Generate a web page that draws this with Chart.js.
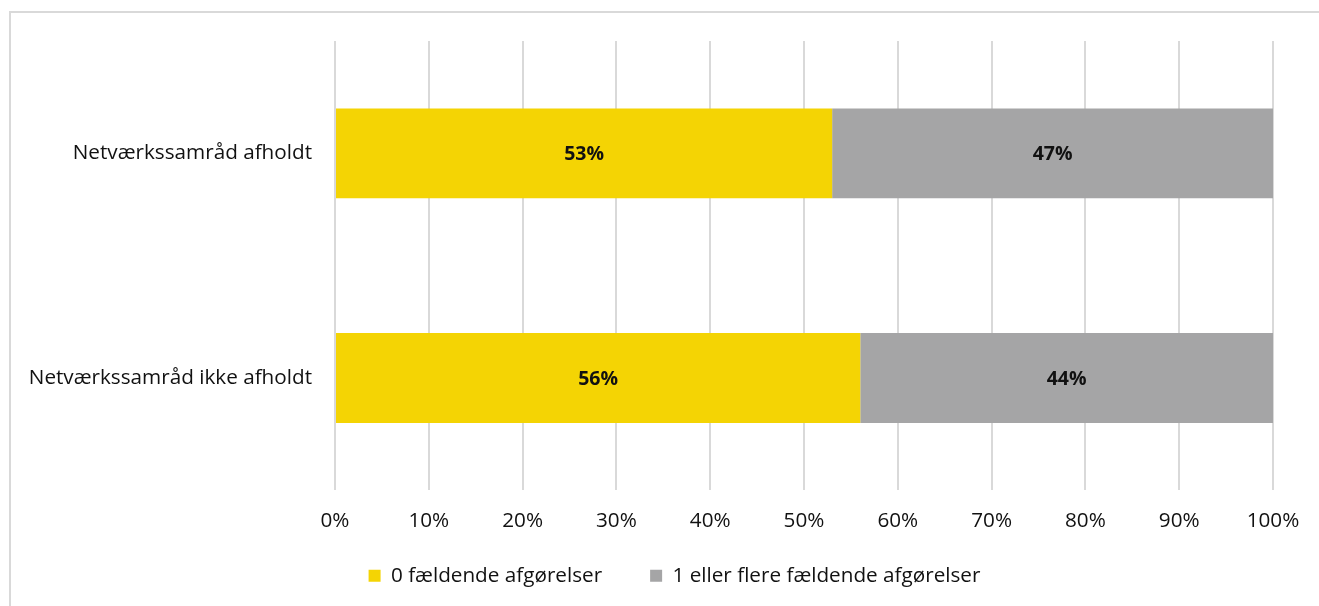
<!DOCTYPE html>
<html>
<head>
<meta charset="utf-8">
<script src="https://cdn.jsdelivr.net/npm/chart.js@4.4.1/dist/chart.umd.min.js"></script>
<style>
  html, body { margin: 0; padding: 0; background: #fff; overflow: hidden; }
  #frame { position: absolute; left: 9px; top: 11px; width: 1400px; height: 700px; border-left: 2px solid #D9D9D9; border-top: 2px solid #D9D9D9; }
  #wrap { position: absolute; left: 0; top: 0; width: 1319px; height: 606px; }
</style>
</head>
<body>
<div id="frame"></div>
<div id="wrap"><canvas id="c" width="1319" height="606"></canvas></div>
<script>
const categories = ["Netværkssamråd afholdt", "Netværkssamråd ikke afholdt"];
const seriesNames = ["0 fældende afgørelser", "1 eller flere fældende afgørelser"];
const zeroValues = [53, 56];
const oneOrMoreValues = [47, 44];
const xTicks = [0, 10, 20, 30, 40, 50, 60, 70, 80, 90, 100];

const FONT = "'Open Sans', 'DejaVu Sans', sans-serif";
const FS = 20.7;

const valueLabels = {
  id: 'valueLabels',
  afterDatasetsDraw(chart) {
    const ctx = chart.ctx;
    ctx.save();
    ctx.font = `bold 19.5px ${FONT}`;
    ctx.fillStyle = '#111';
    ctx.textAlign = 'center';
    ctx.textBaseline = 'middle';
    chart.data.datasets.forEach((ds, di) => {
      const meta = chart.getDatasetMeta(di);
      meta.data.forEach((bar, i) => {
        const cx = (bar.x + bar.base) / 2;
        ctx.fillText(ds.data[i] + '%', cx, bar.y + 1);
      });
    });
    ctx.restore();
  }
};

const adjustLayout = {
  id: 'adjustLayout',
  afterLayout(chart) {
    if (chart.legend) { chart.legend.left += 38; chart.legend.right += 38; }
    const x = chart.scales.x;
    x.bottom = x.top + 70;
  }
};

new Chart(document.getElementById('c'), {
  type: 'bar',
  data: {
    labels: categories,
    datasets: [
      { label: seriesNames[0], data: zeroValues, backgroundColor: '#F4D404', borderWidth: 0 },
      { label: seriesNames[1], data: oneOrMoreValues, backgroundColor: '#A5A5A6', borderWidth: 0 }
    ]
  },
  options: {
    indexAxis: 'y',
    responsive: false,
    animation: false,
    devicePixelRatio: 1,
    layout: { padding: { top: 41, left: 0, right: 46, bottom: 10 } },
    datasets: { bar: { barPercentage: 0.4, categoryPercentage: 1.0 } },
    scales: {
      x: {
        stacked: true,
        min: 0, max: 100,
        afterBuildTicks(scale) { scale.ticks = xTicks.map(v => ({ value: v })); },
        afterFit(scale) { scale.height = 27; },
        grid: { color: '#D9D9D9', lineWidth: 2, drawTicks: false },
        border: { display: false },
        ticks: {
          padding: 18,
          color: '#111',
          font: { family: FONT, size: FS },
          callback: v => v + '%'
        }
      },
      y: {
        stacked: true,
        afterFit(scale) { scale.width = 335; },
        grid: { display: false, drawTicks: false },
        border: { display: false },
        ticks: {
          padding: 23,
          color: '#111',
          font: { family: FONT, size: FS }
        }
      }
    },
    plugins: {
      legend: {
        position: 'bottom',
        labels: {
          boxWidth: 12, boxHeight: 12,
          padding: 48,
          color: '#111',
          font: { family: FONT, size: FS }
        }
      },
      tooltip: { enabled: false }
    }
  },
  plugins: [valueLabels, adjustLayout]
});
</script>
</body>
</html>
